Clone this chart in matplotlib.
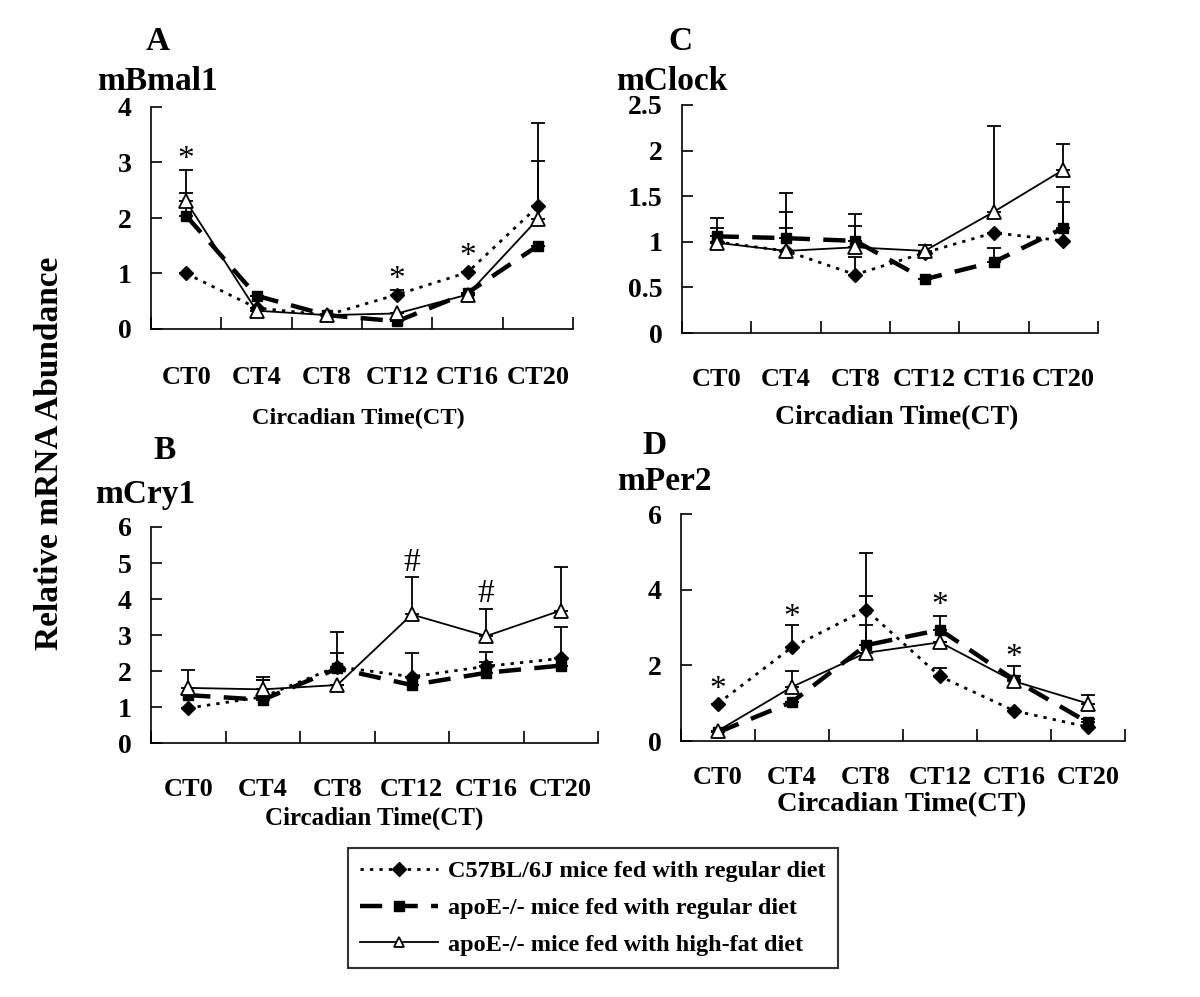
"""
Circadian clock gene expression - 4 panel line chart with error bars
"""

import numpy as np
import matplotlib.pyplot as plt

plt.switch_backend('agg')
plt.rcParams['font.family'] = ['Liberation Serif', 'DejaVu Serif']

W, H = 1200, 997

ct_labels = ['CT0', 'CT4', 'CT8', 'CT12', 'CT16', 'CT20']
legend_labels = ['C57BL/6J mice fed with regular diet',
                 'apoE-/- mice fed with regular diet',
                 'apoE-/- mice fed with high-fat diet']

# mBmal1
bmal_c57 = [1.0, 0.38, 0.25, 0.62, 1.02, 2.21]
bmal_apo = [2.04, 0.6, 0.25, 0.14, 0.65, 1.5]
bmal_hf = [2.3, 0.33, 0.25, 0.28, 0.62, 1.98]
bmal_c57_err = [0, 0, 0, 0.09, 0, 1.5]
bmal_apo_err = [0.41, 0, 0, 0, 0, 0]
bmal_hf_err = [0.57, 0, 0, 0, 0, 1.04]
bmal_marks = [('*', 0, 3.05), ('*', 3, 0.88), ('*', 4, 1.3)]

# mClock
clock_c57 = [1.0, 0.9, 0.64, 0.88, 1.1, 1.01]
clock_apo = [1.06, 1.04, 1.01, 0.59, 0.78, 1.15]
clock_hf = [0.99, 0.9, 0.94, 0.9, 1.33, 1.79]
clock_c57_err = [0, 0.25, 0.19, 0, 0, 0.43]
clock_apo_err = [0.2, 0.49, 0.29, 0, 0.15, 0.45]
clock_hf_err = [0.16, 0.43, 0.23, 0.07, 0.94, 0.28]

# mCry1
cry_c57 = [0.97, 1.28, 2.12, 1.84, 2.13, 2.35]
cry_apo = [1.33, 1.2, 2.07, 1.61, 1.95, 2.15]
cry_hf = [1.53, 1.49, 1.61, 3.57, 2.97, 3.68]
cry_c57_err = [0, 0.47, 0.95, 0.66, 0.41, 0.88]
cry_apo_err = [0, 0.55, 0.43, 0, 0.3, 0]
cry_hf_err = [0.51, 0.33, 0, 1.05, 0.76, 1.22]
cry_marks = [('#', 3, 5.0), ('#', 4, 4.15)]

# mPer2
per_c57 = [0.99, 2.48, 3.47, 1.71, 0.8, 0.37]
per_apo = [0.23, 1.03, 2.53, 2.94, 1.62, 0.49]
per_hf = [0.27, 1.43, 2.33, 2.61, 1.58, 0.99]
per_c57_err = [0, 0.59, 1.5, 0.22, 0, 0]
per_apo_err = [0, 0, 1.31, 0.36, 0.09, 0.09]
per_hf_err = [0, 0.41, 0.73, 0, 0.41, 0.22]
per_marks = [('*', 0, 1.35), ('*', 1, 3.25), ('*', 3, 3.57), ('*', 4, 2.2)]


def px_rect(l, t, r, b):
    return [l / W, 1 - b / H, (r - l) / W, (b - t) / H]


def draw_panel(ax, c57, apo, hf, errs, ymax, ystep, marks, label_pad):
    x = np.arange(len(ct_labels))
    for vals, err in zip((c57, apo, hf), errs):
        e = np.array(err)
        ax.errorbar(x, vals, yerr=[np.zeros_like(e), e], fmt='none',
                    ecolor='black', elinewidth=1.3, capsize=5, capthick=1.3, zorder=2)
    h1, = ax.plot(x, c57, color='black', ls=(0, (1.2, 2.2)), lw=2.0,
                  marker='D', ms=7, mfc='black', mec='black', zorder=3)
    h2, = ax.plot(x, apo, color='black', ls=(0, (5, 3)), lw=3.2,
                  marker='s', ms=7, mfc='black', mec='black', zorder=3)
    h3, = ax.plot(x, hf, color='black', ls='-', lw=1.3,
                  marker='^', ms=10, mfc='white', mec='black', mew=1.3, zorder=4)
    for sym, i, y in marks:
        ax.text(i, y, sym, ha='center', va='center', fontsize=24, zorder=5)

    ax.set_xlim(-0.5, 5.5)
    ax.set_ylim(0, ymax)
    ax.set_xticks(np.arange(-0.5, 6.0, 1.0))
    ax.set_xticklabels([])
    ax.set_xticks(x, minor=True)
    ax.set_xticklabels(ct_labels, minor=True)
    ax.tick_params(axis='x', which='major', direction='in', length=9, width=1.2)
    ax.tick_params(axis='x', which='minor', length=0, pad=label_pad,
                   labelsize=19)
    yt = np.arange(0, ymax + 1e-9, ystep)
    ax.set_yticks(yt)
    ax.set_yticklabels(['%g' % v for v in yt])
    ax.tick_params(axis='y', direction='in', length=8, width=1.2, pad=14, labelsize=20)
    for lab in ax.get_xticklabels(minor=True) + ax.get_yticklabels():
        lab.set_fontweight('bold')
    for s in ('top', 'right'):
        ax.spines[s].set_visible(False)
    for s in ('left', 'bottom'):
        ax.spines[s].set_linewidth(1.2)
    return [h1, h2, h3]


fig = plt.figure(figsize=(W / 100, H / 100), dpi=100)

axA = fig.add_axes(px_rect(151, 107, 573, 329))
axC = fig.add_axes(px_rect(682, 105, 1098, 333))
axB = fig.add_axes(px_rect(151, 527, 598, 743))
axD = fig.add_axes(px_rect(681, 514, 1125, 741))

handles = draw_panel(axA, bmal_c57, bmal_apo, bmal_hf,
                     (bmal_c57_err, bmal_apo_err, bmal_hf_err), 4, 1, bmal_marks, 27)
draw_panel(axC, clock_c57, clock_apo, clock_hf,
           (clock_c57_err, clock_apo_err, clock_hf_err), 2.5, 0.5, [], 25)
draw_panel(axB, cry_c57, cry_apo, cry_hf,
           (cry_c57_err, cry_apo_err, cry_hf_err), 6, 1, cry_marks, 25)
draw_panel(axD, per_c57, per_apo, per_hf,
           (per_c57_err, per_apo_err, per_hf_err), 6, 2, per_marks, 18)


def ftext(x, y, s, **kw):
    fig.text(x / W, 1 - y / H, s, ha='center', va='center', fontweight='bold', **kw)


# panel letters and gene names
ftext(158, 42, 'A', fontsize=24)
ftext(157, 82, 'mBmal1', fontsize=24)
ftext(680, 42, 'C', fontsize=24)
ftext(672, 82, 'mClock', fontsize=24)
ftext(165, 450, 'B', fontsize=24)
ftext(145, 494, 'mCry1', fontsize=24)
ftext(655, 446, 'D', fontsize=24)
ftext(664, 481, 'mPer2', fontsize=24)

# x axis titles
ftext(358, 418, 'Circadian Time(CT)', fontsize=17.5)
ftext(897, 418, 'Circadian Time(CT)', fontsize=20)
ftext(374, 818, 'Circadian Time(CT)', fontsize=18)
ftext(902, 805, 'Circadian Time(CT)', fontsize=20.5)

# shared y title
ftext(50, 453, 'Relative mRNA Abundance', fontsize=24, rotation=90)

leg = fig.legend(handles, legend_labels, loc='center',
                 bbox_to_anchor=(593 / W, 1 - 908 / H),
                 prop={'weight': 'bold', 'size': 17.5}, handlelength=3.2,
                 numpoints=1, fancybox=False, frameon=True, labelspacing=0.6,
                 borderpad=0.5, handletextpad=0.4, edgecolor='black')
leg.get_frame().set_linewidth(1.5)
for h in leg.legend_handles:
    h.set_markersize(7)

plt.savefig('out.png', dpi=100)
plt.close()
